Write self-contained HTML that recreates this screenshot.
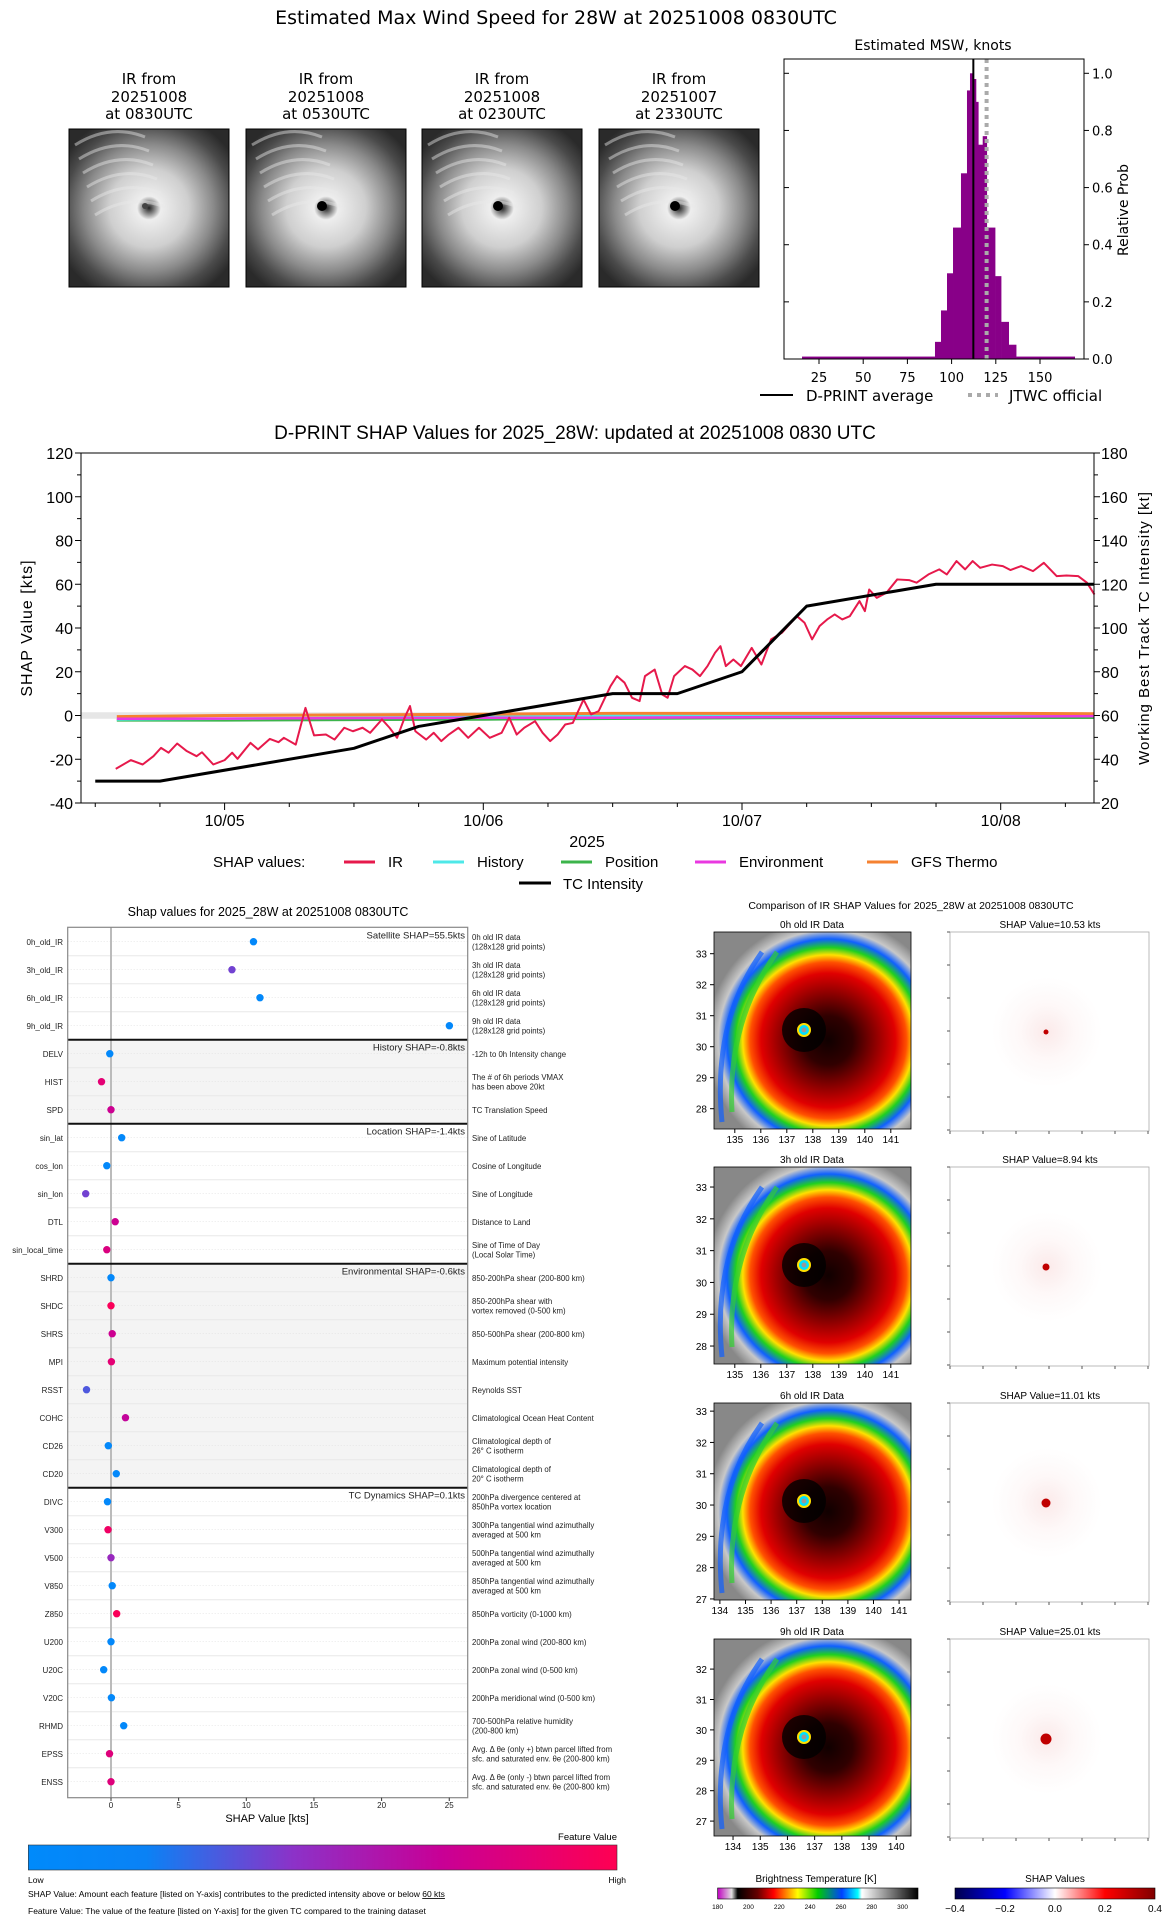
<!DOCTYPE html>
<html><head><meta charset="utf-8"><style>
html,body{margin:0;padding:0;background:#fff;width:1168px;height:1920px;overflow:hidden}
svg text{font-family:"DejaVu Sans","Liberation Sans",sans-serif}
.c text{font-family:"Liberation Sans",sans-serif}
</style></head><body>
<svg id="s" xmlns="http://www.w3.org/2000/svg" width="1168" height="1920" viewBox="0 0 1168 1920">
<defs>
<radialGradient id="gir" cx="0.5" cy="0.5" r="0.62">
<stop offset="0" stop-color="#222"/><stop offset="0.12" stop-color="#eee"/><stop offset="0.4" stop-color="#cfcfcf"/><stop offset="0.65" stop-color="#8a8a8a"/><stop offset="0.85" stop-color="#4a4a4a"/><stop offset="1" stop-color="#2a2a2a"/></radialGradient>
<radialGradient id="genh" cx="0.58" cy="0.55" r="0.62">
<stop offset="0" stop-color="#100000"/><stop offset="0.2" stop-color="#300000"/><stop offset="0.38" stop-color="#8a0000"/><stop offset="0.55" stop-color="#e00000"/><stop offset="0.64" stop-color="#ff5000"/><stop offset="0.7" stop-color="#ffe000"/><stop offset="0.76" stop-color="#20d020"/><stop offset="0.83" stop-color="#1060ff"/><stop offset="0.9" stop-color="#c8c8c8"/><stop offset="1" stop-color="#888"/></radialGradient>
<radialGradient id="gshap" cx="0.5" cy="0.5" r="0.5">
<stop offset="0" stop-color="#f6d0d0"/><stop offset="0.5" stop-color="#fcf0f0"/><stop offset="1" stop-color="#fff"/></radialGradient>
<linearGradient id="gfeat" x1="0" x2="1">
<stop offset="0" stop-color="rgb(0,138,251)"/><stop offset="0.2" stop-color="rgb(10,130,245)"/><stop offset="0.45" stop-color="rgb(140,50,200)"/><stop offset="0.7" stop-color="rgb(200,0,150)"/><stop offset="1" stop-color="rgb(255,0,82)"/></linearGradient>
<linearGradient id="gbt" x1="0" x2="1">
<stop offset="0" stop-color="#c000c0"/><stop offset="0.07" stop-color="#e0e0e0"/><stop offset="0.1" stop-color="#000"/><stop offset="0.2" stop-color="#600"/><stop offset="0.28" stop-color="#f00"/><stop offset="0.4" stop-color="#ff0"/><stop offset="0.5" stop-color="#0c0"/><stop offset="0.62" stop-color="#0040ff"/><stop offset="0.7" stop-color="#0ff"/><stop offset="0.72" stop-color="#fff"/><stop offset="1" stop-color="#000"/></linearGradient>
<linearGradient id="gsv" x1="0" x2="1">
<stop offset="0" stop-color="#00004c"/><stop offset="0.25" stop-color="#0000ff"/><stop offset="0.5" stop-color="#fff"/><stop offset="0.75" stop-color="#ff0000"/><stop offset="1" stop-color="#800000"/></linearGradient>
</defs>
</svg>
<script>
// ---------- data ----------
const histEdges=[90.6,94.0,97.4,100.8,105.3,108.7,110.4,112.3,113.8,115.1,117.6,119.9,124.6,128.0,132.3,136.5];
const histProbs=[0.06,0.17,0.30,0.46,0.65,0.94,1.0,0.98,0.90,0.75,0.78,0.46,0.29,0.13,0.05];
const histTail=[[15.4,90.6,0.005],[136.5,169.8,0.005]];
const dprintAvg=112.3, jtwc=119.8;
const irHours=[-10.1,-8.7,-7.6,-6.6,-5.9,-5.2,-4.4,-3.5,-2.6,-2.1,-1.05,0,0.7,1.2,2.4,3.1,4.2,5.0,5.5,6.6,7.5,8.3,9.4,10.2,11.1,11.9,12.8,13.5,14.6,15.3,16.0,16.7,17.2,17.7,18.7,19.4,20.1,20.8,21.7,22.6,23.6,24.6,25.7,26.4,27.1,27.8,28.8,29.5,30.2,30.9,31.6,32.3,33.3,34.0,34.7,35.8,36.4,37.1,37.8,38.5,39.0,39.9,40.6,41.1,41.7,42.7,43.4,44.1,44.8,45.5,46.0,46.5,47.2,47.9,48.9,49.8,50.7,51.7,52.4,53.1,53.8,54.5,55.2,55.9,56.6,57.3,58.0,58.9,59.4,59.8,60.5,61.4,62.4,63.5,64.2,65.3,66.3,67.0,67.9,68.7,69.4,70.1,71.2,72.2,72.9,73.9,75.0,76.0,77.2,78.1,79.2,80.0,80.7];
const irVals=[-24.4,-20.4,-22.4,-18.6,-14.8,-17,-12.8,-16.3,-18.6,-16.8,-22.4,-20.4,-17,-19.8,-12.5,-15.5,-10.7,-12.2,-10.2,-13.3,3.5,-9.1,-8.7,-11,-5.6,-7.2,-5.6,-7.9,-1.8,-5.6,-10.2,-1,4.3,-7.2,-11,-7.9,-11.7,-8.7,-5.6,-10.2,-5.6,-10.2,-7.9,-1,-8.7,-5.6,-2.6,-7.9,-11.7,-8.7,-4.1,-3.4,7.3,0.5,2,13.4,18,15,8.1,6.6,18,21,9.6,8.1,18,22.6,21,18,22.6,28.7,31.7,22.6,25.6,22.6,30.9,23.3,34.8,37.8,41.6,45.4,42.4,34.8,40.9,43.9,46.2,43.9,45.4,52.3,47.7,57.6,53.8,56.1,62.2,61.9,60.7,64.5,66.8,64.5,70.6,66.8,70.6,67.5,69,68.3,66.5,68.3,66,69.8,63.7,64,63.7,60.7,55.3];
const otherHours=[-10,0,12,24,36,48,60,72,80.7];
const historyVals=[-1.8,-1.5,-1.0,-0.5,0,0,0.5,0.3,0];
const positionVals=[-2.2,-2.2,-2.0,-1.8,-1.5,-1.2,-1.0,-1.0,-1.0];
const environmentVals=[-1.5,-1.4,-1.2,-1.0,-1.0,-0.8,-0.5,-0.5,-0.3];
const gfsVals=[-0.5,0,0.3,0.6,1.0,1.0,1.0,1.0,0.8];
const tcHours=[-12,-6,12,18,24,36,42,48,54,66,80.7];
const tcKts=[30,30,45,55,60,70,70,80,110,120,120];
const feats=["0h_old_IR","3h_old_IR","6h_old_IR","9h_old_IR","DELV","HIST","SPD","sin_lat","cos_lon","sin_lon","DTL","sin_local_time","SHRD","SHDC","SHRS","MPI","RSST","COHC","CD26","CD20","DIVC","V300","V500","V850","Z850","U200","U20C","V20C","RHMD","EPSS","ENSS"];
const shapVals=[10.53,8.94,11.01,25.01,-0.09,-0.7,0.0,0.79,-0.31,-1.87,0.31,-0.31,0.0,0.0,0.09,0.03,-1.81,1.07,-0.2,0.39,-0.26,-0.22,0.0,0.09,0.42,0.0,-0.54,0.03,0.94,-0.11,0.0];
const featVals=[0.05,0.4,0.05,0.05,0.05,0.85,0.72,0.05,0.05,0.4,0.72,0.8,0.05,0.97,0.72,0.85,0.33,0.68,0.05,0.05,0.05,0.92,0.5,0.05,0.97,0.05,0.05,0.05,0.05,0.82,0.82];
const featDesc=[["0h old IR data","(128x128 grid points)"],["3h old IR data","(128x128 grid points)"],["6h old IR data","(128x128 grid points)"],["9h old IR data","(128x128 grid points)"],["-12h to 0h Intensity change"],["The # of 6h periods VMAX","has been above 20kt"],["TC Translation Speed"],["Sine of Latitude"],["Cosine of Longitude"],["Sine of Longitude"],["Distance to Land"],["Sine of Time of Day","(Local Solar Time)"],["850-200hPa shear (200-800 km)"],["850-200hPa shear with","vortex removed (0-500 km)"],["850-500hPa shear (200-800 km)"],["Maximum potential intensity"],["Reynolds SST"],["Climatological Ocean Heat Content"],["Climatological depth of","26° C isotherm"],["Climatological depth of","20° C isotherm"],["200hPa divergence centered at","850hPa vortex location"],["300hPa tangential wind azimuthally","averaged at 500 km"],["500hPa tangential wind azimuthally","averaged at 500 km"],["850hPa tangential wind azimuthally","averaged at 500 km"],["850hPa vorticity (0-1000 km)"],["200hPa zonal wind (200-800 km)"],["200hPa zonal wind (0-500 km)"],["200hPa meridional wind (0-500 km)"],["700-500hPa relative humidity","(200-800 km)"],["Avg. Δ θe (only +) btwn parcel lifted from","sfc. and saturated env. θe (200-800 km)"],["Avg. Δ θe (only -) btwn parcel lifted from","sfc. and saturated env. θe (200-800 km)"]];
const sections=[["Satellite SHAP=55.5kts",0,3,false],["History SHAP=-0.8kts",4,6,true],["Location SHAP=-1.4kts",7,11,false],["Environmental SHAP=-0.6kts",12,19,true],["TC Dynamics SHAP=0.1kts",20,30,false]];
const irPanelTitles=["0h old IR Data","3h old IR Data","6h old IR Data","9h old IR Data"];
const shapPanelVals=["10.53","8.94","11.01","25.01"];
const panelLats=[[33,32,31,30,29,28],[33,32,31,30,29,28],[33,32,31,30,29,28,27],[32,31,30,29,28,27]];
const panelLons=[[135,136,137,138,139,140,141],[135,136,137,138,139,140,141],[134,135,136,137,138,139,140,141],[134,135,136,137,138,139,140]];
const irTimes=[["20251008","at 0830UTC"],["20251008","at 0530UTC"],["20251008","at 0230UTC"],["20251007","at 2330UTC"]];

// ---------- helpers ----------
const S=document.getElementById('s');const NS='http://www.w3.org/2000/svg';
function el(tag,at,parent){const e=document.createElementNS(NS,tag);for(const k in at)e.setAttribute(k,at[k]);(parent||S).appendChild(e);return e;}
function tx(x,y,str,size,anchor,parent,extra){const e=el('text',Object.assign({x:x,y:y,'font-size':size,'text-anchor':anchor||'start',fill:'#000'},extra||{}),parent);e.textContent=str;return e;}
function g(name,cls){const e=el('g',cls?{class:cls}:{});return e;}

// ---------- top title ----------
let t=tx(556,24,"Estimated Max Wind Speed for 28W at 20251008 0830UTC",19,'middle');


// ---------- top IR images ----------
const irX=[69,246,422,599];
irX.forEach((x0,i)=>{
  const G=g('ir-image-'+i);
  tx(x0+80,84,"IR from",15,'middle',G);tx(x0+80,102,irTimes[i][0],15,'middle',G);tx(x0+80,119,irTimes[i][1],15,'middle',G);
  el('rect',{x:x0,y:129,width:160,height:158,fill:'#555'},G);
  el('rect',{x:x0,y:129,width:160,height:158,fill:'url(#gir)'},G);
  for(let k=0;k<6;k++)el('path',{d:`M${x0+6+k*4} ${145+k*14} q35 -22 70 -8`,stroke:'#e8e8e8','stroke-width':3,fill:'none',opacity:0.45},G);
  el('circle',{cx:x0+76,cy:206,r:i==0?3:5,fill:i==0?'#444':'#000'},G);
  el('rect',{x:x0,y:129,width:160,height:158,fill:'none',stroke:'#000','stroke-width':1},G);
});

// ---------- histogram ----------
(function(){
  const G=g('msw-histogram');
  const X=v=>819+(v-25)*1.768, Y=p=>359-p*285.7;
  tx(933,50,"Estimated MSW, knots",14,'middle',G);
  histProbs.forEach((p,i)=>{const b=el('rect',{x:X(histEdges[i]),y:Y(p),width:X(histEdges[i+1])-X(histEdges[i])+0.3,height:359-Y(p),fill:'#880088'},G);});
  histTail.forEach(a=>el('rect',{x:X(a[0]),y:Y(a[2])-1,width:X(a[1])-X(a[0]),height:2,fill:'#880088'},G));
  el('line',{x1:X(jtwc),x2:X(jtwc),y1:59,y2:359,stroke:'#aaa','stroke-width':4,'stroke-dasharray':'4 4'},G);
  el('line',{x1:X(dprintAvg),x2:X(dprintAvg),y1:59,y2:359,stroke:'#000','stroke-width':2},G);
  el('rect',{x:784,y:59,width:300,height:300,fill:'none',stroke:'#000','stroke-width':1},G);
  [25,50,75,100,125,150].forEach(v=>{el('line',{x1:X(v),x2:X(v),y1:359,y2:364,stroke:'#000'},G);tx(X(v),382,String(v),13,'middle',G);});
  [0,0.2,0.4,0.6,0.8,1.0].forEach(p=>{el('line',{x1:1084,x2:1089,y1:Y(p),y2:Y(p),stroke:'#000'},G);el('line',{x1:784,x2:789,y1:Y(p),y2:Y(p),stroke:'#000'},G);tx(1092,Y(p)+5,p.toFixed(1),13,'start',G);});
  tx(0,0,"Relative Prob",14,'middle',G,{transform:'translate(1128,210) rotate(-90)'});
  el('line',{x1:760,x2:793,y1:395,y2:395,stroke:'#000','stroke-width':2},G);tx(806,401,"D-PRINT average",15,'start',G);
  el('line',{x1:968,x2:998,y1:395,y2:395,stroke:'#aaa','stroke-width':4,'stroke-dasharray':'4 5'},G);tx(1009,401,"JTWC official",15,'start',G);
})();

// ---------- SHAP time series ----------
(function(){
  const G=g('shap-timeseries','c');
  const X=h=>224.6+h/24*258.7, Y=v=>715.5-v*2.1875, YK=k=>Y(k-60);
  tx(575,439,"D-PRINT SHAP Values for 2025_28W: updated at 20251008 0830 UTC",19,'middle',G);
  el('rect',{x:81,y:Y(1.5),width:1013,height:Y(-1.5)-Y(1.5),fill:'#e6e6e6'},G);
  const line=(hs,vs,col,w,yf,name)=>{const p=el('polyline',{points:hs.map((h,i)=>X(h)+','+yf(vs[i])).join(' '),fill:'none',stroke:col,'stroke-width':w,'stroke-linejoin':'round'},G);};
  line(otherHours,positionVals,'#3cb44b',2.5,Y,'position-line');
  line(otherHours,historyVals,'#4ee8e8',2.5,Y,'history-line');
  line(otherHours,gfsVals,'#f58231',3,Y,'gfs-thermo-line');
  line(otherHours,environmentVals,'#e938e0',2.5,Y,'environment-line');
  line(irHours,irVals,'#e6194b',2,Y,'ir-line');
  line(tcHours,tcKts,'#000',3,YK,'tc-intensity-line');
  el('rect',{x:81,y:453,width:1013,height:350,fill:'none',stroke:'#000','stroke-width':1},G);
  for(let v=-40;v<=120;v+=10){el('line',{x1:81,x2:v%20?77:75,y1:Y(v),y2:Y(v),stroke:'#000'},G);if(v%20==0)tx(73,Y(v)+6,String(v),16,'end',G);}
  for(let k=20;k<=180;k+=10){el('line',{x1:1094,x2:k%20?1098:1100,y1:YK(k),y2:YK(k),stroke:'#000'},G);if(k%20==0)tx(1101,YK(k)+6,String(k),16,'start',G);}
  for(let h=-12;h<=78;h+=6){el('line',{x1:X(h),x2:X(h),y1:803,y2:h%24?807:810,stroke:'#000'},G);}
  ["10/05","10/06","10/07","10/08"].forEach((s,i)=>tx(X(i*24),826,s,16,'middle',G));
  tx(587,847,"2025",16,'middle',G);
  tx(0,0,"SHAP Value [kts]",16,'middle',G,{transform:'translate(32,628) rotate(-90)','letter-spacing':'1'});
  tx(0,0,"Working Best Track TC Intensity [kt]",15,'middle',G,{transform:'translate(1149,628) rotate(-90)','letter-spacing':'1'});
  tx(213,867,"SHAP values:",15,'start',G);
  [["IR",344,'#e6194b'],["History",433,'#4ee8e8'],["Position",561,'#3cb44b'],["Environment",695,'#e938e0'],["GFS Thermo",867,'#f58231']].forEach(a=>{el('line',{x1:a[1],x2:a[1]+31,y1:862,y2:862,stroke:a[2],'stroke-width':3},G);tx(a[1]+44,867,a[0],15,'start',G);});
  el('line',{x1:519,x2:551,y1:883,y2:883,stroke:'#000','stroke-width':3},G);tx(563,889,"TC Intensity",15,'start',G);
})();

// ---------- SHAP feature plot ----------
(function(){
  const G=g('shap-feature-plot','c');
  const X=v=>111+v*13.53, R=i=>941.7+i*28;
  const cmap=f=>{const st=[[0,0,138,251],[0.2,10,130,245],[0.45,140,50,200],[0.7,200,0,150],[1,255,0,82]];for(let k=1;k<st.length;k++){if(f<=st[k][0]){const a=st[k-1],b=st[k],u=(f-a[0])/(b[0]-a[0]);return `rgb(${[1,2,3].map(j=>Math.round(a[j]+(b[j]-a[j])*u)).join(',')})`;}}return 'rgb(255,0,82)';};
  tx(268,916,"Shap values for 2025_28W at 20251008 0830UTC",12.5,'middle',G);
  sections.forEach(s=>{if(s[3])el('rect',{x:67.7,y:R(s[1])-14,width:400,height:(s[2]-s[1]+1)*28,fill:'#f4f4f4'},G);});
  feats.forEach((f,i)=>{
    if(i>0)el('line',{x1:67.7,x2:467.7,y1:R(i)-14,y2:R(i)-14,stroke:'#e8e8e8','stroke-width':1},G);
    el('line',{x1:67.7,x2:467.7,y1:R(i),y2:R(i),stroke:'#ddd','stroke-width':0.6,'stroke-dasharray':'1 2'},G);
    tx(63,R(i)+3.5,f,8,'end',G,{fill:'#222'});
    const d=featDesc[i];
    if(d.length==1)tx(472,R(i)+3.5,d[0],7.8,'start',G,{fill:'#222'});
    else{tx(472,R(i)-1.5,d[0],7.8,'start',G,{fill:'#222'});tx(472,R(i)+8,d[1],7.8,'start',G,{fill:'#222'});}
  });
  el('line',{x1:X(0),x2:X(0),y1:927.3,y2:1797.7,stroke:'#bbb','stroke-width':2},G);
  sections.forEach((s,k)=>{if(k>0)el('line',{x1:67.7,x2:467.7,y1:R(s[1])-14,y2:R(s[1])-14,stroke:'#111','stroke-width':2},G);tx(465,R(s[1])-3,s[0],9.5,'end',G,{fill:'#222'});});
  feats.forEach((f,i)=>{const c=el('circle',{cx:X(shapVals[i]),cy:R(i),r:3.7,fill:cmap(featVals[i])},G);});
  el('rect',{x:67.7,y:927.3,width:400,height:870.4,fill:'none',stroke:'#888','stroke-width':1.2},G);
  [0,5,10,15,20,25].forEach(v=>{el('line',{x1:X(v),x2:X(v),y1:1797.7,y2:1801,stroke:'#333'},G);tx(X(v),1808,String(v),8,'middle',G,{fill:'#222'});});
  tx(267,1822,"SHAP Value [kts]",11,'middle',G);
  el('rect',{x:28.3,y:1845,width:588.7,height:25,fill:'url(#gfeat)',stroke:'#333','stroke-width':0.6},G);
  tx(617,1840,"Feature Value",9.5,'end',G);tx(28,1883,"Low",8.5,'start',G);tx(626,1883,"High",8.5,'end',G);
  const f1=tx(28,1897,"SHAP Value: Amount each feature [listed on Y-axis] contributes to the predicted intensity above or below ",8.5,'start',G);
  const ts=el('tspan',{'text-decoration':'underline'},f1);ts.textContent="60 kts";
  tx(28,1914,"Feature Value: The value of the feature [listed on Y-axis] for the given TC compared to the training dataset",8.5,'start',G);
})();

// ---------- IR comparison panels ----------
(function(){
  const G=g('ir-comparison','c');
  tx(911,909,"Comparison of IR SHAP Values for 2025_28W at 20251008 0830UTC",10.5,'middle',G);
  const tops=[932,1167,1403,1639];
  const latTop=[33.7,33.63,33.26,32.99], latSp=[31,31.8,31.3,30.4], lonL=[134.2,134.2,133.77,133.3], lonSp=[26,26,25.6,27.2];
  tops.forEach((y0,i)=>{
    const P=el('g',{},G);
    tx(812,y0-4,irPanelTitles[i],10,'middle',P);
    el('rect',{x:714,y:y0,width:197,height:197,fill:'#9a9a9a'},P);
    el('rect',{x:714,y:y0,width:197,height:197,fill:'url(#genh)'},P);
    el('path',{d:`M${722} ${y0+190} q-10 -100 40 -170`,stroke:'#1060ff','stroke-width':5,fill:'none',opacity:0.7},P);
    el('path',{d:`M${732} ${y0+180} q-5 -90 45 -160`,stroke:'#30d030','stroke-width':5,fill:'none',opacity:0.7},P);
    el('circle',{cx:804,cy:y0+98,r:22,fill:'#000',opacity:0.8},P);
    el('circle',{cx:804,cy:y0+98,r:6,fill:'#00e0ff',stroke:'#ffe000','stroke-width':2},P);
    el('circle',{cx:804,cy:y0+98,r:2.5,fill:'#999'},P);
    el('rect',{x:714,y:y0,width:197,height:197,fill:'none',stroke:'#000','stroke-width':0.8},P);
    panelLats[i].forEach(l=>{const yy=y0+(latTop[i]-l)*latSp[i];el('line',{x1:714,x2:710,y1:yy,y2:yy,stroke:'#000'},P);tx(707,yy+4,String(l),10,'end',P);});
    panelLons[i].forEach(l=>{const xx=714+(l-lonL[i])*lonSp[i];el('line',{x1:xx,x2:xx,y1:y0+197,y2:y0+201,stroke:'#000'},P);tx(xx,y0+211,String(l),10,'middle',P);});
    const Q=el('g',{},G);
    tx(1050,y0-4,"SHAP Value="+shapPanelVals[i]+" kts",10,'middle',Q);
    el('rect',{x:950,y:y0,width:199,height:199,fill:'#fff',stroke:'#aaa','stroke-width':0.8},Q);
    el('circle',{cx:1047,cy:y0+100,r:55,fill:'url(#gshap)',opacity:0.45},Q);
    el('circle',{cx:1046,cy:y0+100,r:2.5+i,fill:'#c00000'},Q);
    for(let k=0;k<7;k++){el('line',{x1:950+k*33,x2:950+k*33,y1:y0+199,y2:y0+202,stroke:'#555'},Q);el('line',{x1:950,x2:947,y1:y0+k*33,y2:y0+k*33,stroke:'#555'},Q);}
  });
  tx(816,1882,"Brightness Temperature [K]",10,'middle',G);
  el('rect',{x:717.6,y:1888,width:200.4,height:11,fill:'url(#gbt)',stroke:'#000','stroke-width':0.6},G);
  [180,200,220,240,260,280,300].forEach(v=>tx(717.6+(v-180)/130*200.4,1909,String(v),6.5,'middle',G));
  tx(1055,1882,"SHAP Values",10,'middle',G);
  el('rect',{x:955,y:1888,width:200,height:11,fill:'url(#gsv)',stroke:'#000','stroke-width':0.6},G);
  ["−0.4","−0.2","0.0","0.2","0.4"].forEach((s,k)=>tx(955+k*50,1912,s,10,'middle',G));
})();
</script>
</body></html>
